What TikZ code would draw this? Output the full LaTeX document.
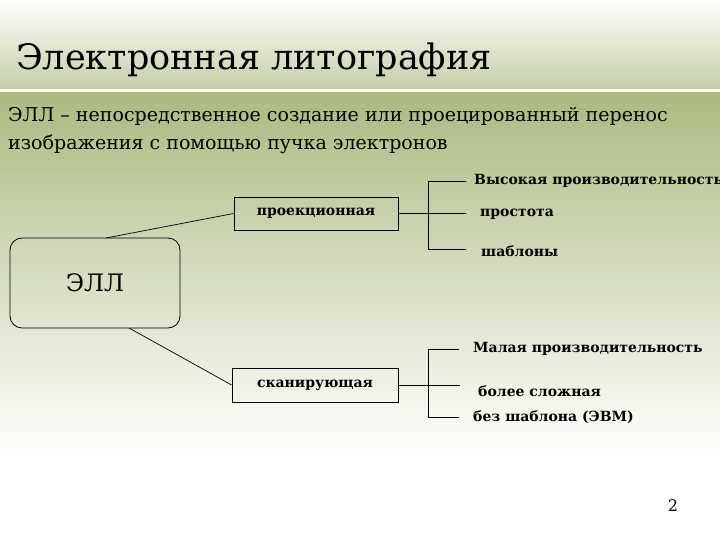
\documentclass[tikz,border=0pt]{standalone}
\usepackage{fontspec}
\setmainfont{DejaVu Serif}
\newfontfamily\tms{DejaVu Serif}
\begin{document}
\begin{tikzpicture}[x=1pt,y=-1pt,
  lbl/.style={font=\tms\bfseries\fontsize{14}{16}\selectfont,anchor=west,inner sep=0pt},
  bx/.style={draw,line width=0.8pt,font=\tms\bfseries\fontsize{14}{16}\selectfont},
  ln/.style={line width=0.7pt}]
\useasboundingbox (0,0) rectangle (720,540);
\shade[top color=white,bottom color={rgb,255:red,196;green,206;blue,166}] (0,0) rectangle (720,89);
\fill[white] (0,89) rectangle (720,93);
\shade[top color={rgb,255:red,172;green,186;blue,128},bottom color=white] (0,93) rectangle (720,455);
\fill[white] (0,455) rectangle (720,540);
\node[anchor=west,inner sep=0pt,font=\tms\fontsize{35}{40}\selectfont] (title) at (16,60) {Электронная литография};
\node[anchor=north west,inner sep=0pt,align=left,font=\tms\fontsize{19}{28}\selectfont] (sub) at (8,107) {ЭЛЛ – непосредственное создание или проецированный перенос\\изображения с помощью пучка электронов};
\node[draw,line width=0.8pt,rounded corners=12pt,minimum width=170pt,minimum height=90pt,font=\tms\fontsize{24}{28}\selectfont] (ell) at (95,283) {ЭЛЛ};
\node[bx,minimum width=164pt,minimum height=33pt] (proj) at (316,213.5) {проекционная};
\node[bx,minimum width=166pt,minimum height=34pt] (scan) at (315,385) {сканирующая};
\coordinate (et) at (106,238);
\coordinate (eb) at (129,328);
\draw[ln] (et) -- (proj.west);
\draw[ln] (eb) -- (scan.west);
\coordinate (t1) at (428,181); \coordinate (t3) at (428,249);
\coordinate (u1) at (466,181); \coordinate (u2) at (466,213.5); \coordinate (u3) at (466,249);
\draw[ln] (t1) -- (t3);
\draw[ln] (t1) -- (u1); \draw[ln] (proj.east) -- (u2); \draw[ln] (t3) -- (u3);
\node[lbl] (a1) at (474,181) {Высокая производительность};
\node[lbl] (a2) at (480,214) {простота};
\node[lbl] (a3) at (481,251) {шаблоны};
\coordinate (s1) at (428,349); \coordinate (s3) at (428,417);
\coordinate (v1) at (459,349); \coordinate (v2) at (460,385); \coordinate (v3) at (459,417);
\draw[ln] (s1) -- (s3);
\draw[ln] (s1) -- (v1); \draw[ln] (scan.east) -- (v2); \draw[ln] (s3) -- (v3);
\node[lbl] (b1) at (473,349) {Малая производительность};
\node[lbl] (b2) at (478,391) {более сложная};
\node[lbl] (b3) at (473,417) {без шаблона (ЭВМ)};
\node[inner sep=0pt,font=\tms\fontsize{16}{18}\selectfont] (pg) at (673,506) {2};
\end{tikzpicture}
\end{document}
